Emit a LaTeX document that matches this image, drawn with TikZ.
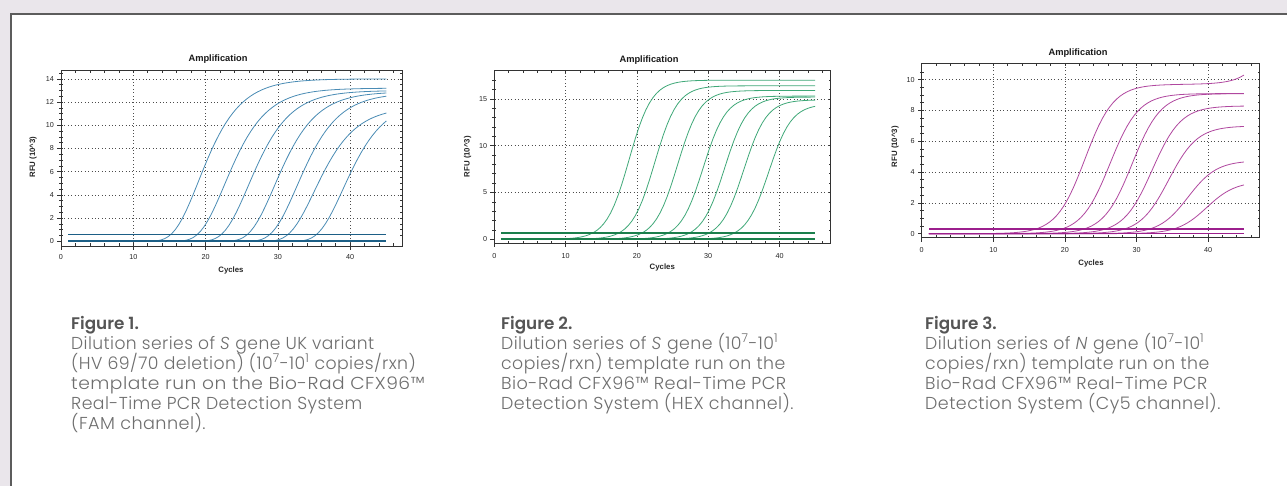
\documentclass[tikz,border=0pt]{standalone}
\usepackage{graphicx}
\usepackage{fontspec}
\setmainfont{Liberation Sans}
\newfontfamily\capfont{Poppins}[UprightFont={* Light}, ItalicFont={* Light Italic}, BoldFont={* SemiBold}, LetterSpace=2.5]
\newfontfamily\headfont{Poppins}[UprightFont={* SemiBold}]
\definecolor{bgc}{HTML}{EAE6EB}
\definecolor{bord}{HTML}{5C5C5C}
\definecolor{capgray}{HTML}{6E6E6E}
\definecolor{headgray}{HTML}{555555}
\definecolor{bluec}{HTML}{4A8CB5}
\definecolor{blued}{HTML}{1D5F86}
\definecolor{greenc}{HTML}{3FA878}
\definecolor{greend}{HTML}{1B7F4C}
\definecolor{pinkc}{HTML}{B0479F}
\definecolor{pinkd}{HTML}{9C1F8D}
\newcommand\wid[2]{\scalebox{#1}[1]{#2}}
\tikzset{
  declare function={
    gomp(\u,\P,\m,\s)=\P*exp(-exp(min(-(\u-\m)/\s,2.6)));
    logi(\u,\P,\m,\s)=\P/(1+exp(min(-(\u-\m)/\s,9)));
  },
  gridl/.style={draw=black!70, line width=0.55pt, dash pattern=on 0.8pt off 2.6pt},
  framel/.style={draw=black!80, line width=0.8pt},
  tk/.style={draw=black!80, line width=0.6pt},
  ticklab/.style={font=\fontsize{7.2}{8}\selectfont, text=black!85, inner sep=0pt},
  axlab/.style={font=\bfseries\fontsize{7.8}{9}\selectfont, text=black!85, inner sep=0pt},
  ttl/.style={font=\bfseries\fontsize{9.3}{11}\selectfont, text=black!90, inner sep=0pt},
  capline/.style={font=\capfont\fontsize{17.3}{19}\selectfont, text=capgray, anchor=base west, inner sep=0pt},
  caphead/.style={font=\headfont\fontsize{16.8}{19}\selectfont, text=headgray, anchor=base west, inner sep=0pt},
  curveb/.style={draw=bluec, line width=0.8pt},
  baseb/.style={draw=blued, line width=1.6pt},
  curveg/.style={draw=greenc, line width=0.8pt},
  baseg/.style={draw=greend, line width=1.6pt},
  curvep/.style={draw=pinkc, line width=0.8pt},
  basep/.style={draw=pinkd, line width=1.6pt},
}
\begin{document}
\begin{tikzpicture}[x=1pt,y=-1pt]
\useasboundingbox (0,0) rectangle (1287,486);
\fill[bgc] (0,0) rectangle (1287,486);
\fill[white] (11,14) rectangle (1287,486);
\draw[bord, line width=1.6pt] (11,486) -- (11,14) -- (1287,14);

% ---------------- Chart 1 ----------------
\begin{scope}[shift={(61pt,-241.3pt)}, x=7.23pt, y=11.6pt]
  \foreach \g in {10,20,30,40} \draw[gridl] (\g,-0.4) -- (\g,14.7);
  \foreach \g in {2,4,...,14} \draw[gridl] (0,\g) -- (47.2,\g);
  \foreach \t in {2,4,...,46} {\draw[tk] (\t,-0.4) -- ++(0pt,2.5pt); \draw[tk] (\t,14.7) -- ++(0pt,-2.5pt);}
  \foreach \t in {0.5,1,...,14.5} {\draw[tk] (0,\t) -- ++(2pt,0pt); \draw[tk] (0,\t) -- ++(-2pt,0pt); \draw[tk] (47.2,\t) -- ++(-2pt,0pt);}
  \foreach \t in {0,10,20,30,40} {\draw[tk] (\t,-0.4) -- ++(0pt,-4pt); \node[ticklab] (ax1-\t) at (\t,-1.33) {\t};}
  \foreach \t in {0,2,...,14} {\draw[tk] (0,\t) -- ++(-4pt,0pt); \node[ticklab, anchor=east] (ay1-\t) at ([xshift=-7pt]0,\t) {\t};}
  \draw[framel] (0,-0.4) rectangle (47.2,14.7);
  \foreach \P/\m in {14.0/19.0, 13.2/22.6, 13.0/25.9, 12.9/29.5, 12.8/32.6, 11.6/35.0, 12.2/39.0}
    \draw[curveb] plot[domain=1:45, samples=90] (\x, {gomp(\x,\P,\m,3.3)});
  \draw[baseb] (1,0) -- (45,0);
  \draw[baseb] (1,0.6) -- (45,0.6);
\end{scope}
\node[ttl] (t1) at (218,59) {Amplification};
\node[axlab] (c1) at (231,270.7) {Cycles};
\node[axlab, rotate=90] (r1) at (33,157) {RFU (10\^{}3)};

% ---------------- Chart 2 ----------------
\begin{scope}[shift={(494.3pt,-239.3pt)}, x=7.13pt, y=9.36pt]
  \foreach \g in {10,20,30,40} \draw[gridl] (\g,-0.43) -- (\g,18);
  \foreach \g in {5,10,15} \draw[gridl] (0,\g) -- (47.2,\g);
  \foreach \t in {2,4,...,46} {\draw[tk] (\t,-0.43) -- ++(0pt,2.5pt); \draw[tk] (\t,18) -- ++(0pt,-2.5pt);}
  \foreach \t in {1,2,...,17} {\draw[tk] (0,\t) -- ++(2pt,0pt); \draw[tk] (0,\t) -- ++(-2pt,0pt); \draw[tk] (47.2,\t) -- ++(-2pt,0pt);}
  \foreach \t in {0,10,20,30,40} {\draw[tk] (\t,-0.43) -- ++(0pt,-4pt); \node[ticklab] (ax2-\t) at (\t,-1.75) {\t};}
  \foreach \t in {0,5,10,15} {\draw[tk] (0,\t) -- ++(-4pt,0pt); \node[ticklab, anchor=east] (ay2-\t) at ([xshift=-7pt]0,\t) {\t};}
  \draw[framel] (0,-0.43) rectangle (47.2,18);
  \foreach \P/\m in {17.0/18.9, 16.4/22.5, 15.9/25.7, 15.3/29.3, 15.2/32.3, 14.9/35.0, 14.45/38.5}
    \draw[curveg] plot[domain=1:45, samples=90] (\x, {logi(\x,\P,\m,1.6)});
  \draw[baseg] (1,0) -- (45,0);
  \draw[baseg] (1,0.65) -- (45,0.65);
\end{scope}
\node[ttl] (t2) at (649,60) {Amplification};
\node[axlab] (c2) at (662.3,267.7) {Cycles};
\node[axlab, rotate=90] (r2) at (467.7,156.7) {RFU (10\^{}3)};

% ---------------- Chart 3 ----------------
\begin{scope}[shift={(921.7pt,-233.7pt)}, x=7.16pt, y=15.4pt]
  \foreach \g in {10,20,30,40} \draw[gridl] (\g,-0.26) -- (\g,11.06);
  \foreach \g in {2,4,...,10} \draw[gridl] (0,\g) -- (47.2,\g);
  \foreach \t in {2,4,...,46} {\draw[tk] (\t,-0.26) -- ++(0pt,2.5pt); \draw[tk] (\t,11.06) -- ++(0pt,-2.5pt);}
  \foreach \t in {0.5,1,...,10.5} {\draw[tk] (0,\t) -- ++(2pt,0pt); \draw[tk] (0,\t) -- ++(-2pt,0pt); \draw[tk] (47.2,\t) -- ++(-2pt,0pt);}
  \foreach \t in {0,10,20,30,40} {\draw[tk] (\t,-0.26) -- ++(0pt,-4pt); \node[ticklab] (ax3-\t) at (\t,-1.06) {\t};}
  \foreach \t in {0,2,...,10} {\draw[tk] (0,\t) -- ++(-4pt,0pt); \node[ticklab, anchor=east] (ay3-\t) at ([xshift=-7pt]0,\t) {\t};}
  \draw[framel] (0,-0.26) rectangle (47.2,11.06);
  \draw[curvep] plot[domain=1:45, samples=90] (\x, {logi(\x,9.7,22.8,2.0)+0.6*exp(min((\x-45)/2,0))});
  \foreach \P/\m in {9.1/26.3, 9.1/29.4, 8.3/32.2, 7.0/34.5, 4.75/37.2, 3.4/39.8}
    \draw[curvep] plot[domain=1:45, samples=90] (\x, {logi(\x,\P,\m,2.0)});
  \draw[basep] (1,0) -- (45,0);
  \draw[basep] (1,0.3) -- (45,0.3);
\end{scope}
\node[ttl] (t3) at (1078,53.3) {Amplification};
\node[axlab] (c3) at (1091,263.3) {Cycles};
\node[axlab, rotate=90] (r3) at (895,146.7) {RFU (10\^{}3)};

% ---------------- Captions ----------------
\node[caphead] (h1) at (71,329) {Figure 1.};
\node[capline] (l11) at (71,349) {\wid{0.99}{Dilution series of \textit{S} gene UK variant}};
\node[capline] (l12) at (71,369) {\wid{1.0}{(HV 69/70 deletion) (10\textsuperscript{7}-10\textsuperscript{1} copies/rxn)}};
\node[capline] (l13) at (71,389) {\wid{1.08}{template run on the Bio-Rad CFX96™}};
\node[capline] (l14) at (71,409) {\wid{1.0}{Real-Time PCR Detection System}};
\node[capline] (l15) at (71,429) {\wid{1.02}{(FAM channel).}};

\node[caphead] (h2) at (501,329) {Figure 2.};
\node[capline] (l21) at (501,349) {\wid{1.0}{Dilution series of \textit{S} gene (10\textsuperscript{7}-10\textsuperscript{1}}};
\node[capline] (l22) at (501,369) {\wid{1.0}{copies/rxn) template run on the}};
\node[capline] (l23) at (501,389) {\wid{1.02}{Bio-Rad CFX96™ Real-Time PCR}};
\node[capline] (l24) at (501,409) {\wid{1.01}{Detection System (HEX channel).}};

\node[caphead] (h3) at (925,329) {Figure 3.};
\node[capline] (l31) at (925,349) {\wid{1.0}{Dilution series of \textit{N} gene (10\textsuperscript{7}-10\textsuperscript{1}}};
\node[capline] (l32) at (925,369) {\wid{1.0}{copies/rxn) template run on the}};
\node[capline] (l33) at (925,389) {\wid{1.01}{Bio-Rad CFX96™ Real-Time PCR}};
\node[capline] (l34) at (925,409) {\wid{1.01}{Detection System (Cy5 channel).}};
\end{tikzpicture}
\end{document}
